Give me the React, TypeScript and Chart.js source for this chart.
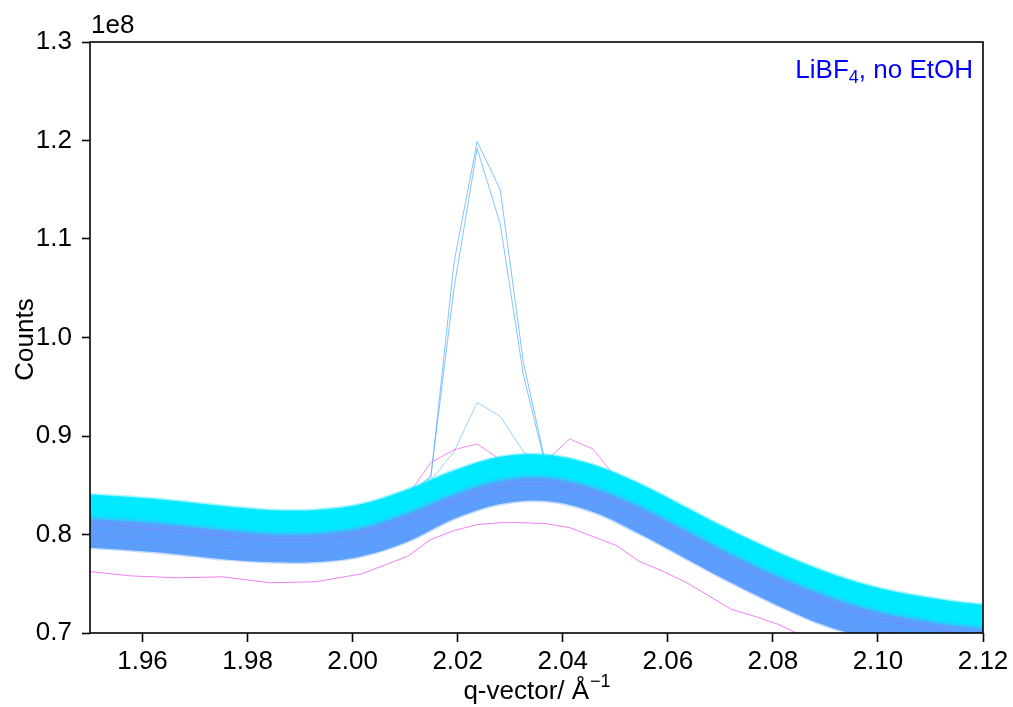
import React, { useEffect, useRef } from "react";
import { Chart, registerables } from "chart.js";
Chart.register(...registerables);

const FONT = '"Liberation Sans", Arial, Helvetica, sans-serif';

// Axis ticks (y in units of 1e8 counts)
const X_TICKS = [1.96, 1.98, 2.0, 2.02, 2.04, 2.06, 2.08, 2.1, 2.12];
const Y_TICKS = [0.7, 0.8, 0.9, 1.0, 1.1, 1.2, 1.3];

// q grid of the main band (every other measured q point)
const Q = [1.9489, 1.9577, 1.9665, 1.9753, 1.9841, 1.9929, 2.0017, 2.0105, 2.0193, 2.0281, 2.0369,
  2.0457, 2.0545, 2.0633, 2.0721, 2.0809, 2.0897, 2.0985, 2.1073, 2.1161, 2.1249];
// upper edge of the cyan (late scans) band
const CYAN_TOP = [0.841, 0.838, 0.834, 0.829, 0.825, 0.825, 0.831, 0.846, 0.865, 0.879, 0.881,
  0.871, 0.852, 0.828, 0.804, 0.782, 0.763, 0.748, 0.738, 0.731, 0.727];
// boundary between cyan and blue scans
const CYAN_LOW = [0.818, 0.815, 0.811, 0.806, 0.802, 0.802, 0.808, 0.823, 0.842, 0.856, 0.859,
  0.849, 0.830, 0.806, 0.781, 0.759, 0.740, 0.725, 0.715, 0.708, 0.704];
// lower edge of the blue (early scans) band
const BLUE_LOW = [0.787, 0.784, 0.780, 0.775, 0.772, 0.772, 0.778, 0.793, 0.816, 0.831, 0.834,
  0.823, 0.801, 0.776, 0.751, 0.728, 0.708, 0.694, 0.684, 0.678, 0.674];
// purple scans visible inside the band
const INNER_A = [0.811, 0.808, 0.803, 0.799, 0.795, 0.795, 0.801, 0.815, 0.834, 0.848, 0.851,
  0.841, 0.822, 0.798, 0.773, 0.751, 0.732, 0.717, 0.707, 0.700, 0.697];
const INNER_B = [0.800, 0.797, 0.792, 0.787, 0.784, 0.784, 0.790, 0.805, 0.826, 0.840, 0.843,
  0.832, 0.812, 0.787, 0.762, 0.740, 0.720, 0.706, 0.696, 0.690, 0.686];

// spiking scans near the peak
const SPIKE_Q = [2.0105, 2.0149, 2.0193, 2.0237, 2.0281, 2.0325, 2.0369, 2.0413];
const SPIKE_A = [0.840, 0.858, 1.076, 1.199, 1.150, 0.975, 0.868, 0.860];
const SPIKE_B = [0.838, 0.860, 1.050, 1.192, 1.115, 0.962, 0.866, 0.858];
const SPIKE_C = [0.836, 0.855, 0.884, 0.934, 0.920, 0.884, 0.868, 0.858];

// first scan (magenta) with a bump
const BUMP_Q = [2.0105, 2.0149, 2.0193, 2.0237, 2.0281, 2.0325, 2.0369, 2.0413, 2.0457, 2.0501, 2.0545];
const BUMP = [0.840, 0.873, 0.886, 0.892, 0.876, 0.868, 0.875, 0.897, 0.887, 0.858, 0.840];

// low magenta scan
const LOW_Q = [1.9489, 1.9577, 1.9665, 1.9753, 1.9841, 1.9929, 2.0017, 2.0105, 2.0149, 2.0193, 2.0237,
  2.0281, 2.0325, 2.0369, 2.0413, 2.0457, 2.0501, 2.0545, 2.0589, 2.0633, 2.0677, 2.0721, 2.0765,
  2.0809, 2.0853];
const LOW = [0.763, 0.758, 0.756, 0.757, 0.751, 0.752, 0.760, 0.778, 0.795, 0.804, 0.810,
  0.812, 0.812, 0.811, 0.807, 0.798, 0.789, 0.773, 0.763, 0.752, 0.738, 0.724, 0.717,
  0.709, 0.698];

const pts = (xs: number[], ys: number[]) => xs.map((x, i) => ({ x, y: ys[i] }));

export default function App() {
  const ref = useRef<HTMLCanvasElement>(null);

  useEffect(() => {
    if (!ref.current) return;
    const annot = {
      id: "annot",
      afterDraw(chart: any) {
        const { ctx, chartArea: a } = chart;
        ctx.save();
        ctx.strokeStyle = "#000";
        ctx.lineWidth = 1.6;
        ctx.strokeRect(a.left, a.top, a.right - a.left, a.bottom - a.top);

        ctx.fillStyle = "#000";
        ctx.textBaseline = "alphabetic";
        ctx.font = `26px ${FONT}`;
        ctx.textAlign = "left";
        ctx.fillText("1e8", 91, 33);

        // y title
        ctx.save();
        ctx.translate(33, (a.top + a.bottom) / 2 + 2);
        ctx.rotate(-Math.PI / 2);
        ctx.textAlign = "center";
        ctx.fillText("Counts", 0, 0);
        ctx.restore();

        // x title with superscript
        const main = "q-vector/ Å";
        const sup = "−1";
        ctx.font = `26px ${FONT}`;
        const w1 = ctx.measureText(main).width;
        ctx.font = `18px ${FONT}`;
        const w2 = ctx.measureText(sup).width;
        const cx = (a.left + a.right) / 2;
        const sx = cx - (w1 + w2) / 2;
        ctx.textAlign = "left";
        ctx.font = `26px ${FONT}`;
        ctx.fillText(main, sx, 699);
        ctx.font = `18px ${FONT}`;
        ctx.fillText(sup, sx + w1 + 1, 687);

        // label
        ctx.fillStyle = "#0000ff";
        const p1 = "LiBF";
        const p2 = "4";
        const p3 = ", no EtOH";
        ctx.font = `26px ${FONT}`;
        const l1 = ctx.measureText(p1).width;
        const l3 = ctx.measureText(p3).width;
        ctx.font = `18px ${FONT}`;
        const l2 = ctx.measureText(p2).width;
        let x = 973 - (l1 + l2 + l3);
        ctx.font = `26px ${FONT}`;
        ctx.fillText(p1, x, 78);
        x += l1;
        ctx.font = `18px ${FONT}`;
        ctx.fillText(p2, x, 83);
        x += l2;
        ctx.font = `26px ${FONT}`;
        ctx.fillText(p3, x, 78);
        ctx.restore();
      },
    };

    const band = { pointRadius: 0, tension: 0.35, fill: false };
    const thin = { pointRadius: 0, tension: 0, fill: false, borderWidth: 1 };

    const chart = new Chart(ref.current, {
      type: "line",
      data: {
        datasets: [
          // 0: blue band lower edge
          { ...band, data: pts(Q, BLUE_LOW), borderColor: "rgba(130,175,252,0.45)", borderWidth: 3, order: 20 },
          // 1: cyan/blue boundary, fills blue band down to dataset 0
          { ...band, data: pts(Q, CYAN_LOW), borderColor: "rgba(60,185,253,0.9)", borderWidth: 3,
            fill: { target: 0 }, backgroundColor: "rgb(92,158,252)", order: 19 },
          // 2,3: purple scans inside band
          { ...band, data: pts(Q, INNER_A), borderColor: "rgba(175,90,255,0.35)", borderWidth: 1, order: 18 },
          { ...band, data: pts(Q, INNER_B), borderColor: "rgba(150,110,255,0.3)", borderWidth: 1, order: 17 },
          // 4-6: spikes
          { ...thin, data: pts(SPIKE_Q, SPIKE_A), borderColor: "rgba(100,180,255,0.8)", order: 16 },
          { ...thin, data: pts(SPIKE_Q, SPIKE_B), borderColor: "rgba(100,180,255,0.8)", order: 15 },
          { ...thin, data: pts(SPIKE_Q, SPIKE_C), borderColor: "rgba(140,200,255,0.85)", order: 14 },
          // 7: magenta bump scan
          { ...thin, data: pts(BUMP_Q, BUMP), borderColor: "rgba(235,90,245,0.7)", order: 13 },
          // 8: cyan band top, fills to boundary dataset 1
          { ...band, data: pts(Q, CYAN_TOP), borderColor: "rgba(40,230,255,0.4)", borderWidth: 3,
            fill: { target: 1 }, backgroundColor: "rgb(0,233,255)", order: 10 },
          // 9: transition stripe
          { ...band, data: pts(Q, CYAN_LOW), borderColor: "rgba(40,205,253,0.6)", borderWidth: 4, order: 9 },
          // 10: low magenta scan
          { ...thin, data: pts(LOW_Q, LOW), borderColor: "rgba(240,70,240,0.7)", order: 1 },
        ],
      },
      options: {
        responsive: false,
        animation: false,
        devicePixelRatio: 1,
        layout: { padding: { left: 0, top: 42, right: 30, bottom: 0 } },
        plugins: { legend: { display: false }, tooltip: { enabled: false } },
        scales: {
          x: {
            type: "linear",
            min: 1.95,
            max: 2.12,
            afterBuildTicks: (s: any) => { s.ticks = X_TICKS.map((v) => ({ value: v })); },
            afterFit: (s: any) => { s.height = 74; },
            ticks: {
              callback: (v: any) => Number(v).toFixed(2),
              font: { family: FONT, size: 26 },
              color: "#000",
              padding: 4,
              maxRotation: 0,
              autoSkip: false,
            },
            grid: { drawOnChartArea: false, drawTicks: true, tickLength: 9, tickWidth: 1.6, tickColor: "#000" },
            border: { display: false },
          },
          y: {
            type: "linear",
            min: 0.7,
            max: 1.3,
            afterBuildTicks: (s: any) => { s.ticks = Y_TICKS.map((v) => ({ value: v })); },
            afterFit: (s: any) => { s.width = 90; },
            ticks: {
              callback: (v: any) => Number(v).toFixed(1),
              font: { family: FONT, size: 26 },
              color: "#000",
              padding: 10,
              autoSkip: false,
            },
            grid: { drawOnChartArea: false, drawTicks: true, tickLength: 8, tickWidth: 1.6, tickColor: "#000" },
            border: { display: false },
          },
        },
      },
      plugins: [annot],
    } as any);
    return () => chart.destroy();
  }, []);

  return (
    <div style={{ position: "fixed", left: 0, top: 0, width: 1013, height: 707, background: "#fff" }}>
      <canvas ref={ref} width={1013} height={707} style={{ width: 1013, height: 707, display: "block" }} />
    </div>
  );
}
